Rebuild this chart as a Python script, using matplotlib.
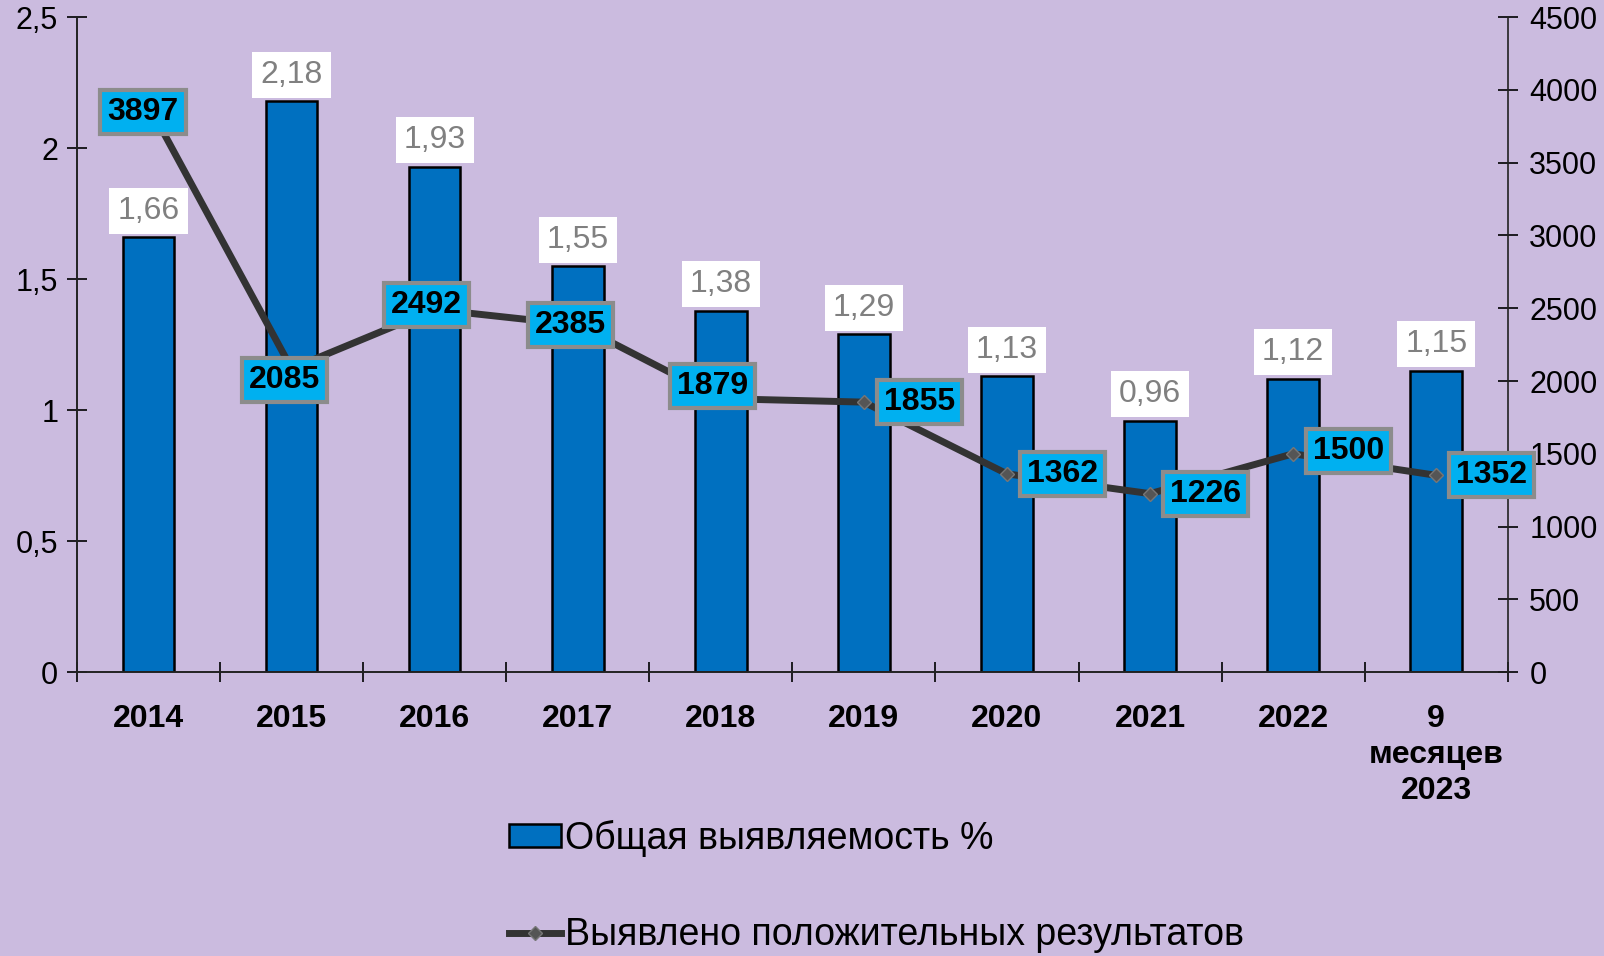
import matplotlib.pyplot as plt
from matplotlib.ticker import FixedLocator

plt.rcParams['font.family'] = ['Liberation Sans', 'DejaVu Sans']

years = ['2014', '2015', '2016', '2017', '2018', '2019', '2020', '2021', '2022', '9\nмесяцев\n2023']
detect_pct = [1.66, 2.18, 1.93, 1.55, 1.38, 1.29, 1.13, 0.96, 1.12, 1.15]
positives = [3897, 2085, 2492, 2385, 1879, 1855, 1362, 1226, 1500, 1352]
pct_labels = ['1,66', '2,18', '1,93', '1,55', '1,38', '1,29', '1,13', '0,96', '1,12', '1,15']

bg = '#CBBBDF'
bar_color = '#0070C0'
line_color = '#333333'

fig = plt.figure(figsize=(16.04, 9.56), dpi=100, facecolor=bg)
ax = fig.add_axes([0.048, 0.297, 0.892, 0.685])
ax.set_facecolor(bg)
ax2 = ax.twinx()

x = list(range(len(years)))

# bars - left axis
bars = ax.bar(x, detect_pct, width=0.36, color=bar_color, edgecolor='black',
              linewidth=1.8, zorder=2, label='Общая выявляемость %')
ax.set_ylim(0, 2.5)
ax.set_xlim(-0.5, len(years) - 0.5)
ax.set_yticks([0, 0.5, 1, 1.5, 2, 2.5])
ax.set_yticklabels(['0', '0,5', '1', '1,5', '2', '2,5'])
ax.set_xticks(x)
ax.set_xticklabels(years, fontweight='bold', fontsize=23, linespacing=1.25)
ax.xaxis.set_minor_locator(FixedLocator([i + 0.5 for i in range(-1, len(years))]))
ax.tick_params(axis='x', which='major', length=0, pad=23)
ax.tick_params(axis='x', which='minor', direction='inout', length=15, width=1.2)
ax.tick_params(axis='y', direction='inout', length=15, width=1.2, labelsize=22, pad=6)

for i, v in enumerate(detect_pct):
    ax.annotate(pct_labels[i], (x[i], v), xytext=(0, 19), textcoords='offset points',
                ha='center', va='center', fontsize=23, color='#808080', zorder=5,
                bbox=dict(boxstyle='square,pad=0.25', facecolor='white', edgecolor='none'))

# line - right axis
ax2.plot(x, positives, color=line_color, linewidth=5, marker='D', markersize=7,
         markerfacecolor='#555555', markeredgecolor='#777777', zorder=3,
         label='Выявлено положительных результатов')
ax2.set_ylim(0, 4500)
ax2.set_yticks(range(0, 4501, 500))
ax2.tick_params(axis='y', direction='inout', length=15, width=1.2, labelsize=22, pad=8)

# label offsets (points) for the count boxes
offsets = [(-4, -5), (-5, -8), (-6, 3), (-5, 0), (-6, 9), (40, 0), (40, 0), (40, 0), (40, 2), (40, 0)]
for i, v in enumerate(positives):
    ax2.annotate(str(v), (x[i], v), xytext=offsets[i], textcoords='offset points',
                 ha='center', va='center', fontsize=23, fontweight='bold', color='black', zorder=6,
                 bbox=dict(boxstyle='square,pad=0.22', facecolor='#00B0F0', edgecolor='#8C8C8C',
                           linewidth=3))

for a in (ax, ax2):
    a.spines['top'].set_visible(False)
    for s in ('left', 'right', 'bottom'):
        a.spines[s].set_linewidth(1.2)
        a.spines[s].set_color('#222222')
ax.set_zorder(ax2.get_zorder() - 1)
ax2.patch.set_visible(False)
ax.spines['right'].set_visible(False)

h1, l1 = ax.get_legend_handles_labels()
h2, l2 = ax2.get_legend_handles_labels()
fig.legend(h1 + h2, l1 + l2, loc='upper left', bbox_to_anchor=(0.296, 0.178),
           frameon=False, fontsize=27, labelspacing=1.62, handlelength=1.4,
           handletextpad=0.1, handleheight=0.55)

fig.savefig('out.png', dpi=100, facecolor=bg)
